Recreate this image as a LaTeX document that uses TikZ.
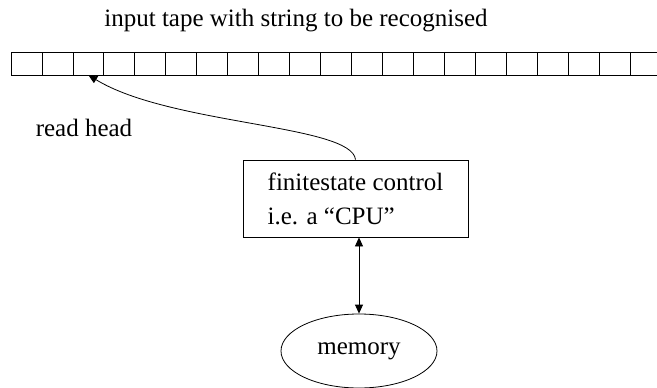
\documentclass[tikz,border=0pt]{standalone}
\usepackage{fontspec}
\setmainfont{Liberation Serif}
\usetikzlibrary{arrows.meta,shapes.geometric}
\tikzset{
  cell/.style={draw, minimum width=30.95pt, minimum height=23pt, inner sep=0pt, outer sep=0pt},
  headtip/.tip={Triangle[length=9pt, width=8pt]}
}
\begin{document}
\begin{tikzpicture}[x=1pt, y=-1pt, line width=0.8pt, font=\fontsize{25}{34}\selectfont]
  \useasboundingbox (0,0) rectangle (657,388);

  % 标题
  \node[anchor=base] (title) at (296,27) {input tape with string to be recognised};

  % 输入带：20 个格子，右端开口
  \foreach \i in {1,...,20}
    \node[cell] (cell\i) at ({11+30.95*(\i-0.5)},63.5) {};
  \draw (cell20.north east) -- (657,52);
  \draw (cell20.south east) -- (657,75);

  % 有限状态控制器与存储器
  \node[draw, align=left, inner xsep=23pt, minimum width=225pt, minimum height=77pt]
    (ctrl) at (355.5,198.5) {finitestate control\\i.e. a ``CPU''};
  \node[draw, ellipse, minimum width=156pt, minimum height=74pt, inner sep=0pt]
    (mem) at (359,351) {memory};

  % 读头
  \node[anchor=base] (rh) at (84,136) {read head};
  \draw[-headtip] (ctrl.north) .. controls +(-3.5,-35) and +(81.5,50) .. (cell3.south);

  % 控制器 <-> 存储器
  \draw[headtip-headtip] (ctrl.south -| mem.north) -- (mem.north);
\end{tikzpicture}
\end{document}
